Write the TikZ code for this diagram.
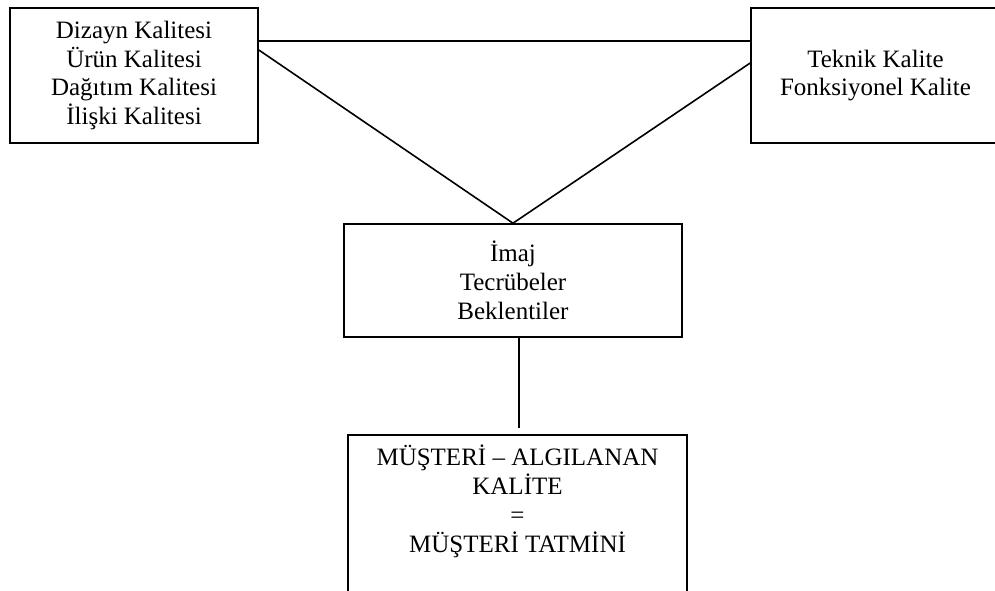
\documentclass[tikz,border=0pt]{standalone}
\usepackage{fontspec}
\setmainfont{Liberation Serif}
\begin{document}
\begin{tikzpicture}[x=1pt,y=-1pt,
  every node/.style={font=\fontsize{25}{28.75}\selectfont},
  box/.style={draw,line width=1.6pt,rectangle,inner sep=0pt,align=center},
  link/.style={line width=1.6pt}]
\useasboundingbox (0,0) rectangle (995,591);
\clip (0,0) rectangle (995,591);
\fill[white] (0,0) rectangle (995,591);

% quality dimensions
\node[box,minimum width=248pt,minimum height=135pt] (left) at (134,75.5)
  {Dizayn Kalitesi\\Ürün Kalitesi\\Dağıtım Kalitesi\\İlişki Kalitesi};
\node[box,minimum width=249pt,minimum height=135pt] (right) at (875.5,75.5)
  {Teknik Kalite\\Fonksiyonel Kalite};

% image, experience, expectations
\node[box,minimum width=338pt,minimum height=113pt] (mid) at (513,280.5)
  {İmaj\\Tecrübeler\\Beklentiler};

% perceived quality box (runs past the lower edge)
\node[box,minimum width=339pt,minimum height=220pt,anchor=north] (result) at (517.5,434) {};
\node[align=center,inner sep=0pt,anchor=base] (resulttext) at (517.5,552)
  {MÜŞTERİ – ALGILANAN\\KALİTE\\=\\MÜŞTERİ TATMİNİ};

% connectors
\coordinate (apex) at (mid.north);
\draw[link] ([yshift=34.5pt]left.east) -- ([yshift=34.5pt]right.west);
\draw[link] ([yshift=25.5pt]left.east) -- (apex);
\draw[link] ([yshift=12.5pt]right.west) -- (apex);
\coordinate (drop) at (519,428);
\draw[link] ([xshift=6pt]mid.south) -- (drop);
\end{tikzpicture}
\end{document}
